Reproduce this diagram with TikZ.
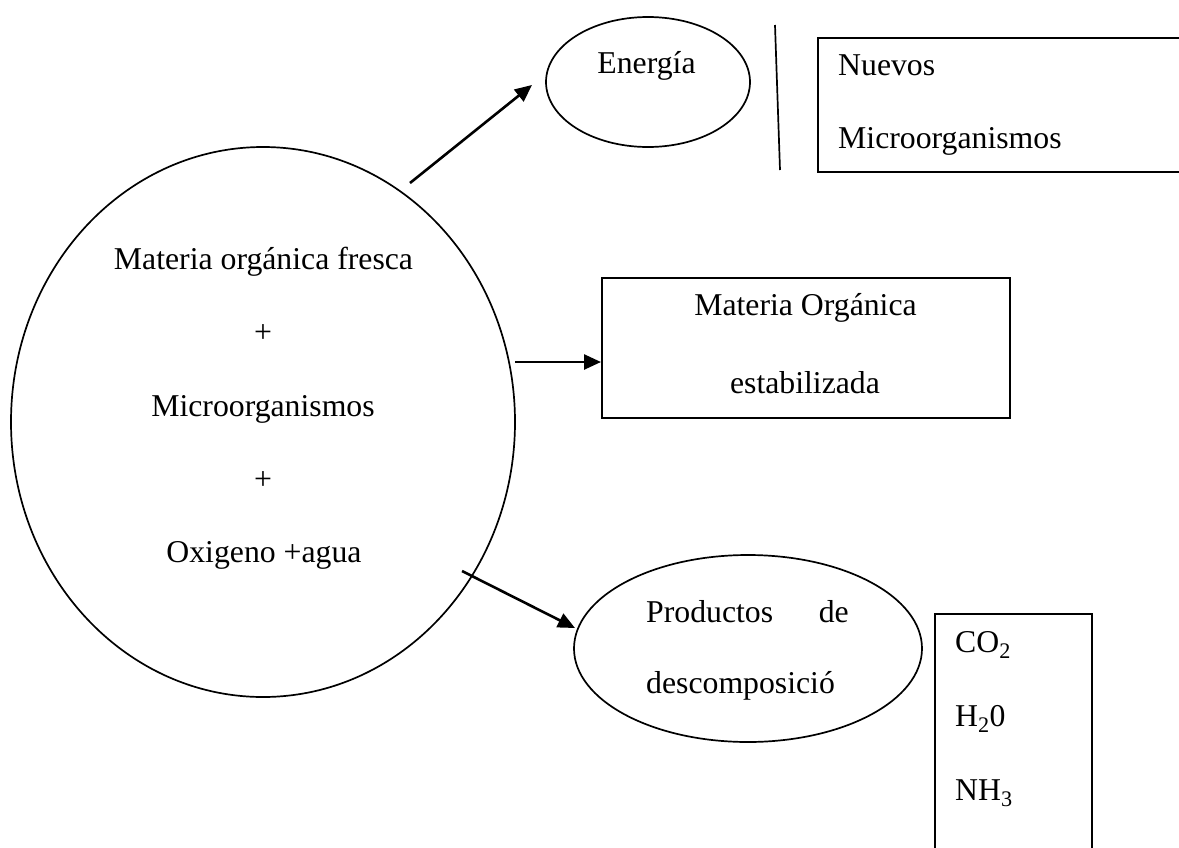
\documentclass[tikz,border=0pt]{standalone}
\usepackage{fontspec}
\setmainfont{Liberation Serif}
\usetikzlibrary{arrows.meta,shapes.geometric}
\begin{document}
\begin{tikzpicture}[x=1pt,y=-1pt,
  shp/.style={draw,line width=1.7pt,inner sep=0pt},
  oval/.style={shp,ellipse},
  boxn/.style={shp,rectangle,anchor=north west},
  txt/.style={inner sep=0pt,font=\fontsize{31.75}{38}\selectfont},
  arr/.style={line width=2.6pt,-{Triangle[length=17pt,width=15pt]}},
  plain/.style={line width=1.7pt}
]
\useasboundingbox (0,0) rectangle (1179,847);
\clip (0,0) rectangle (1179,847);

% big ellipse
\node[oval,minimum width=504pt,minimum height=550pt] (big) at (263,422) {};
\node[txt,anchor=base] (b1) at (263.5,269) {Materia orgánica fresca};
\node[txt,anchor=base] (b2) at (263,342) {+};
\node[txt,anchor=base] (b3) at (263,416) {Microorganismos};
\node[txt,anchor=base] (b4) at (263,489) {+};
\node[txt,anchor=base] (b5) at (264,562) {Oxigeno +agua};

% Energia
\node[oval,minimum width=204pt,minimum height=130pt] (en) at (648,82) {};
\node[txt,anchor=base] (ten) at (646.5,73) {Energía};

% separator line
\coordinate (l1) at (775,25);
\coordinate (l2) at (780,170);
\draw[plain] (l1) -- (l2);

% Nuevos microorganismos
\node[boxn,minimum width=380pt,minimum height=134pt] (nm) at (817,37) {};
\node[txt,anchor=base west] (tnm1) at (838,75) {Nuevos};
\node[txt,anchor=base west] (tnm2) at (838,148) {Microorganismos};

% Materia organica estabilizada
\node[boxn,minimum width=408pt,minimum height=140pt] (mo) at (601,277) {};
\node[txt,anchor=base] (tmo1) at (805.5,315) {Materia Orgánica};
\node[txt,anchor=base] (tmo2) at (805,393) {estabilizada};

% Productos
\node[oval,minimum width=348pt,minimum height=187pt] (pr) at (748,648.5) {};
\node[txt,anchor=base west] (tpr1) at (646,622) {Productos};
\node[txt,anchor=base east] (tpr2) at (849,622) {de};
\node[txt,anchor=base west] (tpr3) at (646,693) {descomposició};

% CO2 box
\node[boxn,minimum width=157pt,minimum height=260pt] (co) at (934,613) {};
\node[txt,anchor=base west] (tc1) at (955,652) {CO\textsubscript{2}};
\node[txt,anchor=base west] (tc2) at (955,726) {H\textsubscript{2}0};
\node[txt,anchor=base west] (tc3) at (955,800) {NH\textsubscript{3}};

% arrows
\coordinate (a1s) at (410,183);
\coordinate (a1e) at (532,85);
\coordinate (a2s) at (515,362);
\coordinate (a2e) at (601,362);
\coordinate (a3s) at (462,571);
\coordinate (a3e) at (575,628);
\draw[arr] (a1s) -- (a1e);
\draw[arr] (a2s) -- (a2e);
\draw[arr] (a3s) -- (a3e);
\end{tikzpicture}
\end{document}
